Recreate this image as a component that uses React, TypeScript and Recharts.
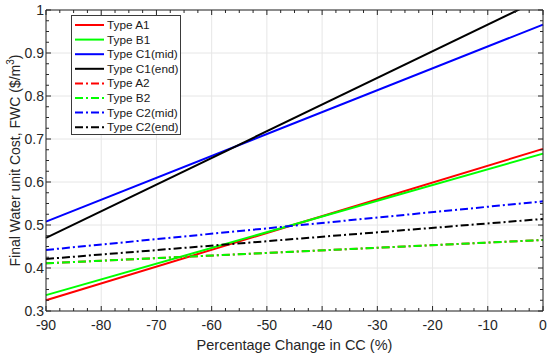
import React from 'react';
import { LineChart, Line, XAxis, YAxis, CartesianGrid } from 'recharts';

// percentage change in capital cost (%)
const changeCC = [-90, 0];

// final water unit cost, $/m3
const typeA1 = [0.325, 0.677];
const typeB1 = [0.337, 0.666];
const typeC1Mid = [0.508, 0.966];
const typeC1End = [0.47, 1.028];
const typeA2 = [0.411, 0.465];
const typeB2 = [0.411, 0.465];
const typeC2Mid = [0.442, 0.555];
const typeC2End = [0.421, 0.514];

const xTicks = [-90, -80, -70, -60, -50, -40, -30, -20, -10, 0];
const yTicks = [0.3, 0.4, 0.5, 0.6, 0.7, 0.8, 0.9, 1];
const xMinorTicks = Array.from({ length: 37 }, (_, i) => -90 + i * 2.5);
const yMinorTicks = Array.from({ length: 29 }, (_, i) => +(0.3 + i * 0.025).toFixed(3));

const DASH_DOT = '8 3 2 3';
const series = [
  { key: 'a1', name: 'Type A1', values: typeA1, color: '#ff0000', dash: undefined },
  { key: 'b1', name: 'Type B1', values: typeB1, color: '#00ff00', dash: undefined },
  { key: 'c1mid', name: 'Type C1(mid)', values: typeC1Mid, color: '#0000ff', dash: undefined },
  { key: 'c1end', name: 'Type C1(end)', values: typeC1End, color: '#000000', dash: undefined },
  { key: 'a2', name: 'Type A2', values: typeA2, color: '#ff0000', dash: DASH_DOT },
  { key: 'b2', name: 'Type B2', values: typeB2, color: '#00ff00', dash: DASH_DOT },
  { key: 'c2mid', name: 'Type C2(mid)', values: typeC2Mid, color: '#0000ff', dash: DASH_DOT },
  { key: 'c2end', name: 'Type C2(end)', values: typeC2End, color: '#000000', dash: DASH_DOT },
];

const data = changeCC.map((x, i) => {
  const row: Record<string, number> = { x };
  series.forEach(s => { row[s.key] = s.values[i]; });
  return row;
});

const W = 550;
const H = 356;
const MARGIN = { top: 9, right: 6, bottom: 15, left: 6 };
const Y_AXIS_W = 40;
const X_AXIS_H = 30;
const PLOT_W = W - MARGIN.left - MARGIN.right - Y_AXIS_W - 1;
const PLOT_H = H - MARGIN.top - MARGIN.bottom - X_AXIS_H - 1;
const AXIS_COLOR = '#262626';
const FONT = '"Liberation Sans", Arial, Helvetica, sans-serif';

const isMajor = (v: number, majors: number[]) => majors.some(m => Math.abs(m - v) < 1e-6);

// top axis draws inward ticks at top and bottom edges
const TopTick = (props: any) => {
  const { x, y, payload } = props;
  const len = isMajor(payload.value, xTicks) ? 5 : 3;
  return (
    <g stroke={AXIS_COLOR} strokeWidth={1}>
      <line x1={x} x2={x} y1={y} y2={y + len} />
      <line x1={x} x2={x} y1={y + PLOT_H} y2={y + PLOT_H - len} />
    </g>
  );
};

// right axis draws inward ticks at right and left edges
const RightTick = (props: any) => {
  const { x, y, payload } = props;
  const len = isMajor(payload.value, yTicks) ? 5 : 3;
  return (
    <g stroke={AXIS_COLOR} strokeWidth={1}>
      <line x1={x} x2={x - len} y1={y} y2={y} />
      <line x1={x - PLOT_W} x2={x - PLOT_W + len} y1={y} y2={y} />
    </g>
  );
};

const YTitle = () => {
  const cx = 15;
  const cy = MARGIN.top + 1 + PLOT_H / 2;
  return (
    <text
      x={cx}
      y={cy}
      transform={`rotate(-90 ${cx} ${cy})`}
      textAnchor="middle"
      dominantBaseline="central"
      fontSize={14}
      fontFamily={FONT}
      fill={AXIS_COLOR}
    >
      Final Water unit Cost, FWC ($/m<tspan dy={-5} fontSize={10}>3</tspan><tspan dy={5}>)</tspan>
    </text>
  );
};

const ROW_H = 14.6;
const LegendBox = () => (
  <svg
    width={111}
    height={122}
    style={{ position: 'absolute', left: 70, top: 14 }}
  >
    <rect x={1.5} y={1.5} width={109} height={119} fill="#fff" stroke="#3a3a3a" strokeWidth={1} />
    {series.map((s, i) => {
      const cy = 11 + i * ROW_H;
      return (
        <g key={s.key}>
          <line x1={5} x2={34} y1={cy} y2={cy} stroke={s.color} strokeWidth={2} strokeDasharray={s.dash} />
          <text x={37} y={cy} dominantBaseline="central" fontSize={11.8} fontFamily={FONT} fill="#1a1a1a">
            {s.name}
          </text>
        </g>
      );
    })}
  </svg>
);

export default function App() {
  return (
    <div style={{ position: 'absolute', left: 0, top: 0, width: W, height: H, background: '#fff' }}>
      <LineChart width={W} height={H} data={data} margin={MARGIN}>
        <CartesianGrid stroke="#e6e6e6" strokeWidth={1} />
        <XAxis
          dataKey="x"
          type="number"
          domain={[-90, 0]}
          ticks={xTicks}
          interval={0}
          height={X_AXIS_H}
          tickLine={false}
          tickSize={0}
          tickMargin={9}
          axisLine={{ stroke: AXIS_COLOR }}
          tick={{ fill: AXIS_COLOR, fontSize: 14, fontFamily: FONT }}
          label={{ value: 'Percentage Change in CC (%)', position: 'insideBottom', offset: -9, fill: AXIS_COLOR, fontSize: 14.5, fontFamily: FONT }}
        />
        <XAxis
          xAxisId="top"
          orientation="top"
          dataKey="x"
          type="number"
          domain={[-90, 0]}
          ticks={xMinorTicks}
          interval={0}
          height={1}
          tickLine={false}
          tickSize={0}
          tickMargin={0}
          axisLine={{ stroke: AXIS_COLOR }}
          tick={<TopTick />}
        />
        <YAxis
          type="number"
          domain={[0.3, 1]}
          allowDataOverflow
          ticks={yTicks}
          interval={0}
          width={Y_AXIS_W}
          tickLine={false}
          tickSize={0}
          tickMargin={2}
          axisLine={{ stroke: AXIS_COLOR }}
          tick={{ fill: AXIS_COLOR, fontSize: 14, fontFamily: FONT }}
          tickFormatter={(v: number) => String(v)}
          label={<YTitle />}
        />
        <YAxis
          yAxisId="right"
          orientation="right"
          type="number"
          domain={[0.3, 1]}
          allowDataOverflow
          ticks={yMinorTicks}
          interval={0}
          width={1}
          tickLine={false}
          tickSize={0}
          tickMargin={0}
          axisLine={{ stroke: AXIS_COLOR }}
          tick={<RightTick />}
        />
        {series.map(s => (
          <Line
            key={s.key}
            dataKey={s.key}
            name={s.name}
            type="linear"
            stroke={s.color}
            strokeWidth={2}
            strokeDasharray={s.dash}
            dot={false}
            activeDot={false}
            isAnimationActive={false}
          />
        ))}
      </LineChart>
      <LegendBox />
    </div>
  );
}
